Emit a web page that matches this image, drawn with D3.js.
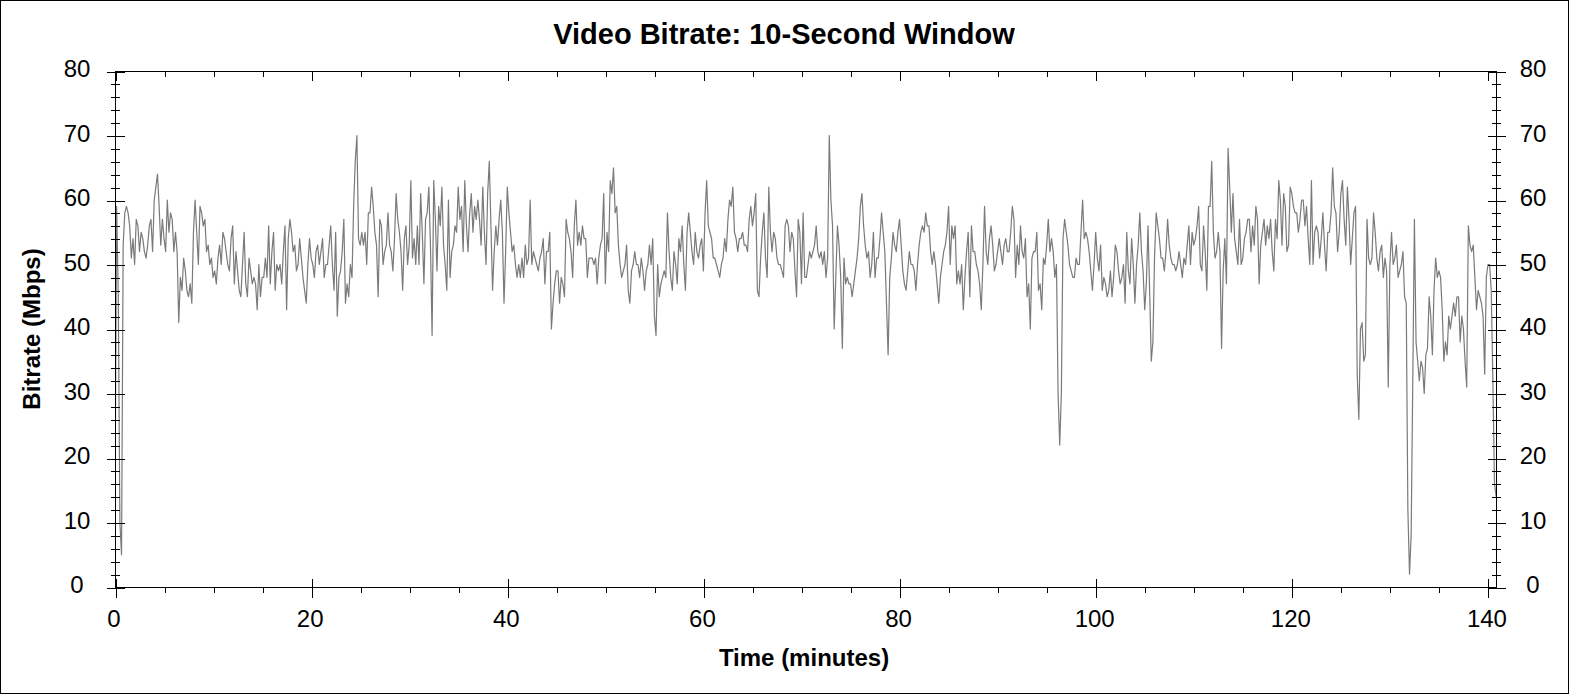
<!DOCTYPE html>
<html>
<head>
<meta charset="utf-8">
<script src="https://cdn.jsdelivr.net/npm/d3@7"></script>
<style>
  html, body { margin: 0; padding: 0; background: #fff; }
  svg { display: block; }
  text { font-family: "Liberation Sans", Arial, sans-serif; fill: #000; }
</style>
</head>
<body>
<svg id="chart" width="1570" height="695"></svg>
<script>
// ---- data (Mbps, one value per 10-second window) ----
const stepMinutes = 1 / 6;
const bitrate = [
13,59,45,10,5,53,58,59,58,56,51,54,50,57,56,52,55,54,52,51,53,56,57,52,
60,62,64,59,53,57,54,52,60,55,58,57,52,55,52,41,48,46,51,49,46,45,47,44,
55,60,55,50,59,58,56,57,52,53,50,51,48,49,47,51,53,50,55,54,52,50,49,54,
56,47,52,49,46,45,50,55,47,45,51,49,47,48,47,43,50,45,48,48,51,48,56,47,
52,55,46,50,49,50,47,52,56,43,54,57,
55,52,53,49,50,54,51,48,46,44,50,54,51,50,48,52,53,50,52,54,
48,50,50,53,56,50,46,55,42,48,49,52,57,44,47,45,50,48,59,66,
70,54,53,55,53,55,50,58,58,62,59,55,53,45,57,56,50,52,53,58,
53,52,49,54,61,57,55,52,46,54,56,50,53,63,51,54,50,56,50,61,
55,47,57,58,62,53,39,63,57,49,59,56,62,53,50,46,60,48,52,53,
56,55,62,57,59,52,
63,56,52,58,61,55,59,57,60,57,53,62,55,50,61,66,56,46,52,56,
53,57,60,55,44,52,62,58,55,52,53,50,48,50,48,51,48,53,50,51,
60,50,52,51,50,49,51,52,54,47,52,52,55,40,44,47,49,49,44,48,
47,45,57,55,54,52,48,56,60,53,55,53,56,54,54,48,51,51,51,50,
51,47,51,53,54,61,47,55,52,63,61,65,58,59,53,50,48,49,50,53,
46,44,49,50,52,50,50,48,
51,49,46,49,50,53,50,54,42,39,50,45,47,48,49,48,58,52,48,46,
52,50,47,54,52,56,50,46,55,58,55,52,50,55,52,51,53,54,49,58,
63,56,55,54,51,51,50,49,48,50,51,54,52,57,60,59,62,55,54,52,
54,54,55,53,53,52,57,59,56,58,61,46,45,51,55,58,51,48,62,55,
52,55,54,51,50,50,49,48,56,57,56,52,55,54,49,45,57,55,47,58,
48,48,50,52,51,52,53,
56,52,51,52,50,52,48,51,70,60,56,40,48,56,53,48,37,51,47,48,
47,47,45,47,49,51,54,59,61,56,53,51,52,48,50,55,48,51,51,54,
58,55,52,44,36,48,51,55,53,52,55,57,53,49,47,46,49,52,50,50,
49,46,50,53,55,56,55,58,56,56,52,50,52,50,47,44,48,50,52,53,
55,59,50,56,54,56,47,49,47,50,43,48,52,55,45,56,52,52,50,49,
47,43,50,59,52,50,54,
56,53,49,50,52,54,52,50,53,54,52,52,55,59,57,48,53,50,56,52,
51,54,45,47,40,51,52,52,55,46,47,43,51,50,53,57,52,54,52,48,
50,30,22,30,54,57,55,53,50,49,48,48,51,50,50,55,60,54,55,54,
52,49,46,50,55,51,49,53,46,48,47,45,46,49,45,48,53,52,49,47,
48,50,44,55,49,47,54,50,44,50,53,58,52,49,43,47,56,46,35,38,
51,58,56,54,51,51,49,
52,57,53,51,50,50,49,50,52,50,48,51,50,53,56,50,55,53,54,56,
59,50,49,56,52,46,59,59,66,55,51,52,55,52,37,49,54,47,68,62,
55,61,54,52,50,57,50,51,54,55,57,57,52,56,53,59,57,47,53,55,
57,53,56,54,57,52,49,57,54,63,60,53,61,59,52,53,62,61,59,58,
58,55,57,60,60,56,59,54,50,63,50,55,56,55,51,54,58,53,49,55,
55,58,65,59,58,52,55,
61,63,57,53,62,57,50,54,58,59,33,26,40,41,35,36,57,51,50,51,
58,55,51,49,52,53,48,51,49,31,50,55,50,51,53,48,49,50,52,45,
44,12,2,8,32,57,38,35,32,35,34,30,36,37,45,42,36,46,51,48,
49,48,43,35,38,36,42,40,42,44,42,45,45,38,42,40,35,31,56,53,
52,53,48,43,46,45,44,42,33,48,50,50,46,32,16,14
];
const xMajorTicks = [0, 20, 40, 60, 80, 100, 120, 140];
const yMajorTicks = [0, 10, 20, 30, 40, 50, 60, 70, 80];
const titleText = "Video Bitrate: 10-Second Window";
const xLabel = "Time (minutes)";
const yLabel = "Bitrate (Mbps)";

// ---- layout ----
const L = 115, R = 1496, T = 71, B = 587;
const svg = d3.select("#chart");
const x = d3.scaleLinear().domain([0, 140.82]).range([L, R]);
const y = d3.scaleLinear().domain([0, 80]).range([B, T]);

const xMinor = d3.range(0, 141, 5).filter(v => !xMajorTicks.includes(v));
const yMinor = d3.range(0, 81, 2).filter(v => !yMajorTicks.includes(v));

// outer border
svg.append("rect").attr("x", 0.5).attr("y", 0.5).attr("width", 1568).attr("height", 693)
  .attr("fill", "#fff").attr("stroke", "#000").attr("stroke-width", 1);

// clip
svg.append("clipPath").attr("id", "plotclip").append("rect")
  .attr("x", L).attr("y", T).attr("width", R - L).attr("height", B - T);

// data line
const line = d3.line().x((d, i) => x(i * stepMinutes)).y(d => y(d));
svg.append("path").datum(bitrate)
  .attr("clip-path", "url(#plotclip)")
  .attr("d", line).attr("fill", "none")
  .attr("stroke", "#7a7a7a").attr("stroke-width", 1.2)
  .attr("stroke-linejoin", "round");

// frame
svg.append("rect").attr("x", L + 0.5).attr("y", T + 0.5)
  .attr("width", R - L).attr("height", B - T)
  .attr("fill", "none").attr("stroke", "#000").attr("stroke-width", 1)
  .attr("shape-rendering", "crispEdges");

function tickGroup(axis, tx, ty) {
  const g = svg.append("g").attr("transform", `translate(${tx},${ty})`)
    .attr("shape-rendering", "crispEdges").call(axis);
  g.select(".domain").remove();
  g.selectAll("line").attr("stroke", "#000");
  g.selectAll("text").remove();
  return g;
}
// left ticks (crossing)
tickGroup(d3.axisRight(y).tickValues(yMajorTicks).tickSize(18).tickFormat(""), L + 0.5 - 9, 0.5);
tickGroup(d3.axisRight(y).tickValues(yMinor).tickSize(9).tickFormat(""), L + 0.5 - 5, 0.5);
// right ticks (crossing)
tickGroup(d3.axisRight(y).tickValues(yMajorTicks).tickSize(18).tickFormat(""), R + 0.5 - 9, 0.5);
tickGroup(d3.axisRight(y).tickValues(yMinor).tickSize(9).tickFormat(""), R + 0.5 - 5, 0.5);
// bottom ticks
tickGroup(d3.axisBottom(x).tickValues(xMajorTicks).tickSize(19).tickFormat(""), 0.5, B + 0.5 - 9);
tickGroup(d3.axisBottom(x).tickValues(xMinor).tickSize(5).tickFormat(""), 0.5, B + 0.5);
// top ticks (inward)
tickGroup(d3.axisBottom(x).tickValues(xMajorTicks).tickSize(9).tickFormat(""), 0.5, T + 0.5);
tickGroup(d3.axisBottom(x).tickValues(xMinor).tickSize(5).tickFormat(""), 0.5, T + 0.5);

// tick labels
const lab = svg.append("g").style("font-size", "24px").attr("text-anchor", "middle");
lab.selectAll(".yl").data(yMajorTicks).join("text")
  .attr("x", 77).attr("y", d => y(d) + 6).text(d => d);
lab.selectAll(".yr").data(yMajorTicks).join("text")
  .attr("x", 1533).attr("y", d => y(d) + 6).text(d => d);
lab.selectAll(".xl").data(xMajorTicks).join("text")
  .attr("x", d => x(d) - 1).attr("y", 627).text(d => d);

// title & axis labels
svg.append("text").attr("x", 784).attr("y", 44).attr("text-anchor", "middle")
  .style("font-size", "29px").style("font-weight", "bold").text(titleText);
svg.append("text").attr("x", 804).attr("y", 666).attr("text-anchor", "middle")
  .style("font-size", "24px").style("font-weight", "bold").text(xLabel);
svg.append("text").attr("transform", "translate(40,329) rotate(-90)").attr("text-anchor", "middle")
  .style("font-size", "24px").style("font-weight", "bold").text(yLabel);
</script>
</body>
</html>
